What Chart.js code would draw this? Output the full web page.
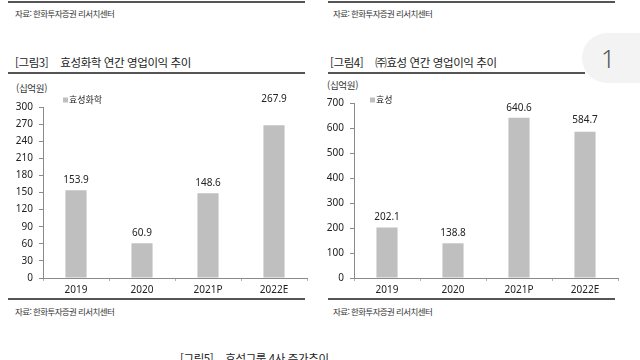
<!DOCTYPE html>
<html lang="ko">
<head>
<meta charset="utf-8">
<script src="https://cdn.jsdelivr.net/npm/chart.js@4.4.1/dist/chart.umd.min.js"></script>
<style>
  html, body { margin: 0; padding: 0; background: #fff; }
  body { width: 640px; height: 360px; overflow: hidden; position: relative;
         font-family: "Noto Sans CJK KR", "Noto Sans", sans-serif; color: #222; }
  .abs { position: absolute; white-space: nowrap; }
  .rule { position: absolute; background: #555; }
  .src { font-size: 8.5px; letter-spacing: -0.6px; color: #333; line-height: 12px; }
  .title { font-size: 11.5px; letter-spacing: -0.4px; color: #222; line-height: 16px; }
  .title span { margin-left: 12px; }
  .unit { font-size: 9.5px; letter-spacing: -0.3px; color: #333; line-height: 12px; }
  canvas { position: absolute; }
  #badge { position: absolute; left: 582px; top: 33px; width: 90px; height: 50px;
           border-radius: 25px; background: #f3f3f3; }
  #badgeNum { position: absolute; left: 601px; top: 43px; font-family: "Noto Sans", sans-serif;
              font-size: 25px; line-height: 30px; color: #555; font-weight: 300; }
</style>
</head>
<body>
<div id="badge"></div>
<div id="badgeNum">1</div>

<!-- left block -->
<div class="rule" style="left:8px;top:1px;width:297px;height:2px"></div>
<div class="abs src" style="left:15px;top:7px">자료: 한화투자증권 리서치센터</div>
<div class="abs title" style="left:15px;top:54px">[그림3]<span>효성화학 연간 영업이익 추이</span></div>
<div class="rule" style="left:8px;top:72px;width:297px;height:1.5px"></div>
<div class="abs unit" style="left:16px;top:82px">(십억원)</div>
<div class="rule" style="left:8px;top:298px;width:297px;height:2px"></div>
<div class="abs src" style="left:15px;top:305px">자료: 한화투자증권 리서치센터</div>

<!-- right block -->
<div class="rule" style="left:328px;top:1px;width:287px;height:2px"></div>
<div class="abs src" style="left:333px;top:7px">자료: 한화투자증권 리서치센터</div>
<div class="abs title" style="left:330px;top:54px">[그림4]<span>㈜효성 연간 영업이익 추이</span></div>
<div class="rule" style="left:328px;top:72px;width:257px;height:1.5px"></div>
<div class="abs unit" style="left:327px;top:79px">(십억원)</div>
<div class="rule" style="left:328px;top:298px;width:287px;height:2px"></div>
<div class="abs src" style="left:333px;top:305px">자료: 한화투자증권 리서치센터</div>

<div class="abs title" style="left:180px;top:350px">[그림5]<span>효성그룹 4사 주가추이</span></div>

<canvas id="chemChart" width="315" height="220" style="left:0px;top:80px"></canvas>
<canvas id="hyosungChart" width="310" height="220" style="left:320px;top:80px"></canvas>

<script>
(function() {
// ---------------------------------------------------------------
// DATA
// ---------------------------------------------------------------
var years = ['2019', '2020', '2021P', '2022E'];
var chemLabel = '효성화학';
var chemOp = [153.9, 60.9, 148.6, 267.9];
var hyosungLabel = '효성';
var hyosungOp = [202.1, 138.8, 640.6, 584.7];
var chemAxis = { max: 300, step: 30 };
var hyosungAxis = { max: 700, step: 100 };

var barColor = '#bfbfbf';
var axisColor = '#8a8a8a';
var tickFont = { family: '"Noto Sans", sans-serif', size: 10 };

// valores encima de cada barra
var valueLabels = {
    id: 'valueLabels',
    afterDatasetsDraw: function(chart, args, opts) {
        var ctx = chart.ctx;
        var lift = opts.lift || [];
        ctx.save();
        ctx.font = '10px "Noto Sans", sans-serif';
        ctx.fillStyle = '#222';
        ctx.textAlign = 'center';
        ctx.textBaseline = 'bottom';
        chart.getDatasetMeta(0).data.forEach(function(bar, i) {
            var v = chart.data.datasets[0].data[i];
            ctx.fillText(v.toFixed(1), bar.x, bar.y - 5 - (lift[i] || 0));
        });
        ctx.restore();
    }
};

// leyenda pequeña dentro del grafico
var miniLegend = {
    id: 'miniLegend',
    afterDraw: function(chart, args, opts) {
        var ctx = chart.ctx;
        var ds = chart.data.datasets[0];
        ctx.save();
        ctx.fillStyle = ds.backgroundColor;
        ctx.fillRect(opts.x, opts.y - 2.5, 5, 5);
        ctx.font = '9px "Noto Sans CJK KR", sans-serif';
        ctx.fillStyle = '#222';
        ctx.textBaseline = 'middle';
        ctx.fillText(ds.label, opts.x + 6, opts.y);
        ctx.restore();
    }
};

function makeChart(id, label, values, axis, yWidth, pad, legendPos, lift, yPad) {
    var ctx = document.getElementById(id).getContext('2d');
    return new Chart(ctx, {
        type: 'bar',
        data: {
            labels: years,
            datasets: [{
                label: label,
                data: values,
                backgroundColor: barColor,
                borderWidth: 0,
                categoryPercentage: 1,
                barPercentage: 0.32
            }]
        },
        options: {
            responsive: false,
            animation: false,
            layout: { padding: pad },
            scales: {
                x: {
                    grid: { drawOnChartArea: false, tickLength: 3, color: '#b0b0b0' },
                    border: { color: axisColor },
                    ticks: { color: '#222', font: tickFont, padding: 3 },
                    afterFit: function(scale) { scale.height = 22; }
                },
                y: {
                    min: 0,
                    max: axis.max,
                    grid: { drawOnChartArea: false, tickLength: 4, color: axisColor },
                    border: { color: axisColor },
                    ticks: { stepSize: axis.step, color: '#222', font: tickFont, padding: yPad },
                    afterFit: function(scale) { scale.width = yWidth; }
                }
            },
            plugins: {
                legend: { display: false },
                tooltip: { enabled: false },
                valueLabels: { lift: lift },
                miniLegend: legendPos
            }
        },
        plugins: [valueLabels, miniLegend]
    });
}

makeChart('chemChart', chemLabel, chemOp, chemAxis, 43,
    { top: 27, right: 8, bottom: 0, left: 0 }, { x: 63, y: 20 }, [0, 0, 0, 16], 6);
makeChart('hyosungChart', hyosungLabel, hyosungOp, hyosungAxis, 34,
    { top: 23, right: 12, bottom: 0, left: 0 }, { x: 50, y: 20 }, [0, 0, 0, 2], 6);
})();
</script>
</body>
</html>
